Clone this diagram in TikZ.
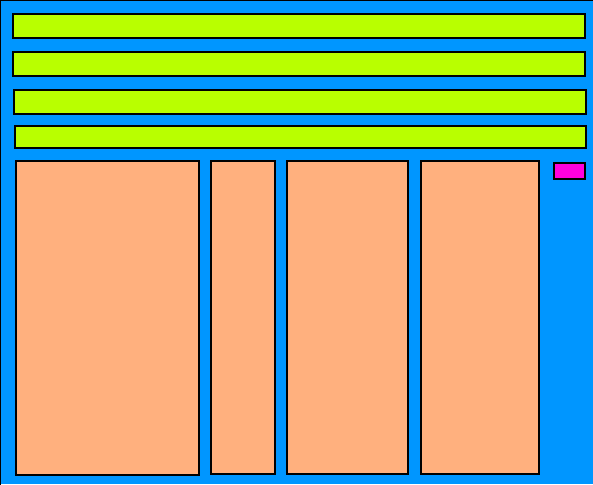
\documentclass[tikz,border=0pt]{standalone}
\definecolor{frameblue}{RGB}{0,150,255}
\definecolor{barlime}{RGB}{185,255,0}
\definecolor{colpeach}{RGB}{255,176,126}
\definecolor{tagpink}{RGB}{255,0,221}
\tikzset{
  bar/.style={draw=black,line width=2pt,fill=barlime},
  col/.style={draw=black,line width=2pt,fill=colpeach},
  tag/.style={draw=black,line width=2pt,fill=tagpink}
}
\begin{document}
\begin{tikzpicture}[x=1pt,y=-1pt]
\useasboundingbox (0,0) rectangle (593,484);
\clip (0,0) rectangle (593,484);
\fill[frameblue] (0,0) rectangle (593,484);
\draw[line width=2pt] (0,520) -- (0,0) -- (620,0);
\draw[bar] (13,14) rectangle (585,38);
\draw[bar] (13,52) rectangle (585,76);
\draw[bar] (14,90) rectangle (586,114);
\draw[bar] (15,126) rectangle (586,148);
\draw[col] (16,161) rectangle (199,475);
\draw[col] (211,161) rectangle (275,474);
\draw[col] (287,161) rectangle (408,474);
\draw[col] (421,161) rectangle (539,474);
\draw[tag] (554,163) rectangle (585,179);
\end{tikzpicture}
\end{document}
